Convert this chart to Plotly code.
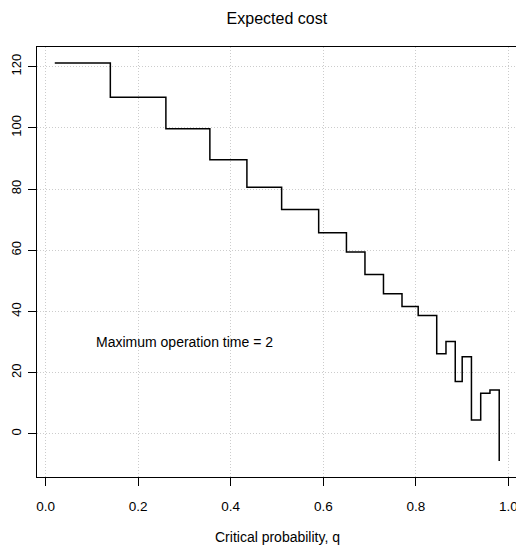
import plotly.graph_objects as go

# critical probability q and expected cost (step plot)
q = [0.02, 0.14, 0.26, 0.355, 0.435, 0.51, 0.59, 0.65, 0.69, 0.73,
     0.77, 0.805, 0.845, 0.865, 0.885, 0.90, 0.92, 0.94, 0.96, 0.98]
cost = [121.2, 110.0, 99.7, 89.6, 80.6, 73.3, 65.7, 59.4, 52.1, 45.8,
        41.6, 38.7, 26.2, 30.2, 17.1, 25.2, 4.5, 13.3, 14.3, -8.9]

xticks = [0.0, 0.2, 0.4, 0.6, 0.8, 1.0]
xticklabels = ['0.0', '0.2', '0.4', '0.6', '0.8', '1.0']
yticks = [0, 20, 40, 60, 80, 100, 120]

note = 'Maximum operation time = 2'
note_x, note_y = 0.3, 30

# R style axis range: data range stretched 4%
def rrange(v):
    lo, hi = min(v), max(v)
    pad = 0.04 * (hi - lo)
    return [lo - pad, hi + pad]

fig = go.Figure()
fig.add_trace(go.Scatter(x=q, y=cost,
                         mode='lines',
                         line_shape='hv',
                         line=dict(color='black', width=1.5),
                         showlegend=False))

fig.add_annotation(x=note_x, y=note_y, text=note, showarrow=False,
                   xanchor='center', yanchor='middle',
                   font=dict(size=14, color='black'))

# x axis title
fig.add_annotation(x=0.5, y=0, xref='paper', yref='paper',
                   text='Critical probability, q', showarrow=False,
                   xanchor='center', yanchor='middle', yshift=-60,
                   font=dict(size=14, color='black'))

grid = dict(showgrid=True, gridcolor='#cccccc', griddash='1px,2px', gridwidth=1)

fig.update_xaxes(range=rrange(q),
                 tickvals=xticks, ticktext=xticklabels,
                 ticks='outside', ticklen=8, tickcolor='black',
                 ticklabelstandoff=9,
                 showline=True, linecolor='black', linewidth=1, mirror=True,
                 zeroline=False,
                 tickfont=dict(size=13.5, color='black'), **grid)
fig.update_yaxes(range=rrange(cost),
                 tickvals=yticks,
                 ticks='outside', ticklen=8, tickcolor='black',
                 tickangle=-90, ticklabelstandoff=2,
                 showline=True, linecolor='black', linewidth=1, mirror=True,
                 zeroline=False,
                 tickfont=dict(size=13, color='black'), **grid)

# page body has an 8px margin, so the figure starts 8px in from the window corner
fig.update_layout(width=516, height=542,
                  margin=dict(l=29, r=7, t=39, b=73, autoexpand=False),
                  paper_bgcolor='white', plot_bgcolor='white',
                  font=dict(family='Liberation Sans, Arial, sans-serif', color='black'),
                  title=dict(text='Expected cost', x=0.521, xanchor='center',
                             y=1 - 10 / 542, yanchor='middle', yref='container',
                             font=dict(size=16, color='black')))

fig.write_html("out.html")
